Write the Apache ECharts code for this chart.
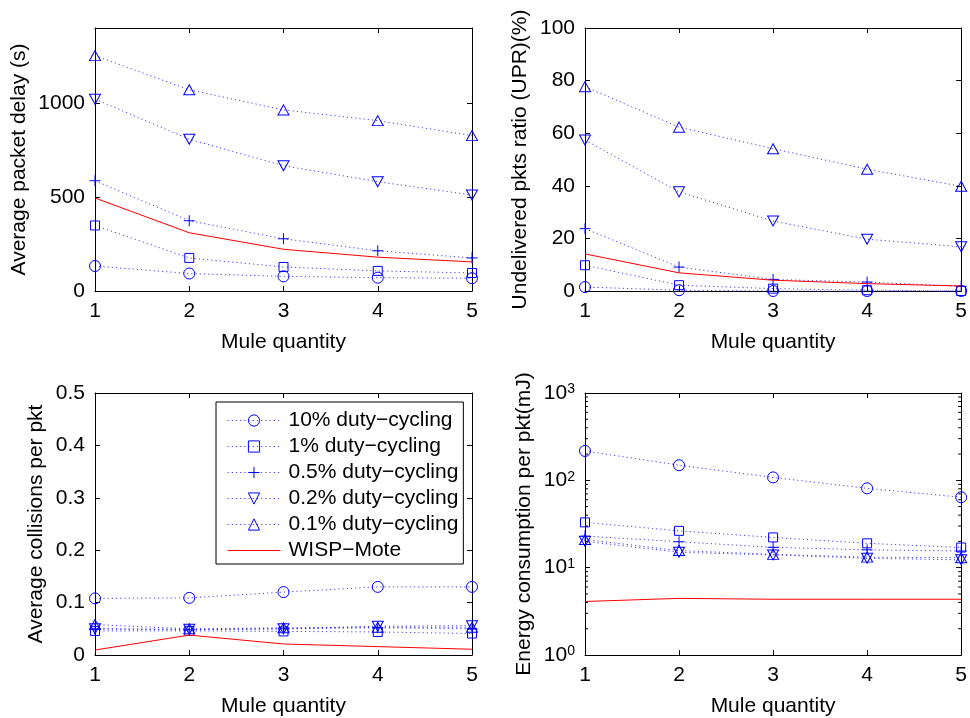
<!DOCTYPE html>
<html><head><meta charset="utf-8">
<script src="https://cdn.jsdelivr.net/npm/echarts@6/dist/echarts.min.js"></script>
<style>html,body{margin:0;padding:0;background:#fff}#c{width:970px;height:718px}</style>
</head><body><div id="c"></div>
<script>
const muleQty = [1, 2, 3, 4, 5];
const seriesNames = ['10% duty\u2212cycling', '1% duty\u2212cycling', '0.5% duty\u2212cycling', '0.2% duty\u2212cycling', '0.1% duty\u2212cycling', 'WISP\u2212Mote'];

// Average packet delay (s)
const delay10 = [133, 93, 78, 71, 68];
const delay1 = [349, 176, 128, 107, 96];
const delay05 = [587, 374, 278, 214, 176];
const delay02 = [1021, 808, 667, 582, 511];
const delay01 = [1253, 1071, 964, 907, 827];
const delayWisp = [495, 310, 222, 180, 155];

// Undelivered pkts ratio (%)
const upr10 = [1.5, 0.3, 0, 0, 0];
const upr1 = [9.8, 2.2, 0.9, 0.3, 0];
const upr05 = [23.7, 9.1, 4.4, 3.4, 1.8];
const upr02 = [57.4, 37.7, 26.6, 19.7, 16.8];
const upr01 = [77.7, 62.3, 54.1, 46.3, 39.8];
const uprWisp = [14.1, 6.9, 4.1, 2.8, 1.9];

// Average collisions per pkt
const coll10 = [0.108, 0.109, 0.120, 0.130, 0.130];
const coll1 = [0.046, 0.046, 0.045, 0.044, 0.041];
const coll05 = [0.050, 0.048, 0.050, 0.052, 0.050];
const coll02 = [0.050, 0.049, 0.050, 0.055, 0.056];
const coll01 = [0.058, 0.050, 0.052, 0.053, 0.053];
const collWisp = [0.0095, 0.038, 0.021, 0.016, 0.011];

// Energy consumption per pkt (mJ)
const energy10 = [217, 149, 108, 81, 64];
const energy1 = [33, 26.4, 22.2, 19, 17];
const energy05 = [23, 19.8, 17.1, 16, 15.5];
const energy02 = [20, 15, 14, 12.8, 12.3];
const energy01 = [21, 15.7, 14.2, 13.2, 13];
const energyWisp = [4.1, 4.45, 4.35, 4.35, 4.35];

// log axis minor tick values
const logMinorTicks = [2,3,4,5,6,7,8,9,20,30,40,50,60,70,80,90,200,300,400,500,600,700,800,900];

const FONT = "'Liberation Sans', Arial, Helvetica, sans-serif";
const BLUE = '#0000ff';
const markers = [
  {symbol: 'circle', size: 11, rotate: 0},
  {symbol: 'rect', size: 9, rotate: 0},
  {symbol: 'path://M0,5L10,5M5,0L5,10', size: 11, rotate: 0},
  {symbol: 'triangle', size: [11, 10], rotate: 180},
  {symbol: 'triangle', size: [11, 10], rotate: 0}
];

const grids = [
  {left: 95, top: 28, width: 377, height: 263},
  {left: 585, top: 28, width: 378, height: 263},
  {left: 95, top: 393, width: 377, height: 264},
  {left: 585, top: 393, width: 378, height: 264}
];

const panels = [
  {data: [delay10, delay1, delay05, delay02, delay01, delayWisp], yName: 'Average packet delay (s)', nameGap: 65,
   y: {type: 'value', min: 0, max: 1400, interval: 500}, labelFmt: v => (v % 500 === 0 ? String(v) : '')},
  {data: [upr10, upr1, upr05, upr02, upr01, uprWisp], yName: 'Undelivered pkts ratio (UPR)(%)', nameGap: 54,
   y: {type: 'value', min: 0, max: 100, interval: 20}, labelFmt: v => String(v)},
  {data: [coll10, coll1, coll05, coll02, coll01, collWisp], yName: 'Average collisions per pkt', nameGap: 48,
   y: {type: 'value', min: 0, max: 0.5, interval: 0.1}, labelFmt: v => (v === 0 ? '0' : String(+v.toFixed(1)))},
  {data: [energy10, energy1, energy05, energy02, energy01, energyWisp], yName: 'Energy consumption per pkt(mJ)', nameGap: 50,
   y: {type: 'log', min: 1, max: 1000, logBase: 10},
   labelFmt: v => '{b|10}{s|' + Math.round(Math.log10(v)) + '}'}
];

const xAxes = [], yAxes = [], series = [];
panels.forEach((p, g) => {
  xAxes.push({
    type: 'value', gridIndex: g, min: 1, max: 5, interval: 1, position: 'bottom',
    name: 'Mule quantity', nameLocation: 'middle', nameGap: 41,
    nameTextStyle: {fontFamily: FONT, fontSize: 21, color: '#000'},
    axisLine: {show: true, onZero: false, lineStyle: {color: '#000', width: 1}},
    axisTick: {show: true, inside: true, length: 5, lineStyle: {color: '#000'}},
    axisLabel: {show: true, margin: 10, fontFamily: FONT, fontSize: 21, color: '#000'},
    splitLine: {show: false}
  });
  xAxes.push({
    type: 'value', gridIndex: g, min: 1, max: 5, interval: 1, position: 'top',
    axisLine: {show: true, onZero: false, lineStyle: {color: '#000', width: 1}},
    axisTick: {show: true, inside: true, length: 5, lineStyle: {color: '#000'}},
    axisLabel: {show: false}, splitLine: {show: false}
  });
  const rich = {
    b: {fontFamily: FONT, fontSize: 21, color: '#000', lineHeight: 21, padding: [6, 0, 6, 0]},
    s: {fontFamily: FONT, fontSize: 14, color: '#000', lineHeight: 14, verticalAlign: 'top'}
  };
  yAxes.push(Object.assign({}, p.y, {
    gridIndex: g, position: 'left',
    name: p.yName, nameLocation: 'middle', nameGap: p.nameGap,
    nameTextStyle: {fontFamily: FONT, fontSize: 21, color: '#000'},
    axisLine: {show: true, onZero: false, lineStyle: {color: '#000', width: 1}},
    axisTick: {show: true, inside: true, length: 5, lineStyle: {color: '#000'}},
    axisLabel: {show: true, margin: 10, fontFamily: FONT, fontSize: 21, color: '#000', formatter: p.labelFmt, rich: g === 3 ? rich : undefined},
    splitLine: {show: false}
  }));
  yAxes.push(Object.assign({}, p.y, {
    gridIndex: g, position: 'right',
    axisLine: {show: true, onZero: false, lineStyle: {color: '#000', width: 1}},
    axisTick: {show: true, inside: true, length: 5, lineStyle: {color: '#000'}},
    axisLabel: {show: false}, splitLine: {show: false}
  }));

  p.data.forEach((vals, i) => {
    const isWisp = i === 5;
    const s = {
      type: 'line', name: seriesNames[i], xAxisIndex: 2 * g, yAxisIndex: 2 * g,
      data: muleQty.map((x, k) => [x, vals[k]]),
      animation: false, clip: false,
      z: isWisp ? 3 : 2
    };
    if (isWisp) {
      s.symbol = 'none';
      s.lineStyle = {color: '#ff0000', width: 1, type: 'solid'};
      s.itemStyle = {color: '#ff0000'};
    } else {
      const m = markers[i];
      s.symbol = m.symbol;
      s.symbolSize = m.size;
      s.symbolRotate = m.rotate;
      s.showAllSymbol = true;
      s.lineStyle = {color: BLUE, width: 1, type: [1.2, 3], opacity: 0.75};
      s.itemStyle = {color: 'rgba(0,0,0,0)', borderColor: BLUE, borderWidth: 1};
    }
    series.push(s);
  });
});

// minor ticks on the log axis (left and right)
series.push({
  type: 'custom', name: 'logMinor', xAxisIndex: 6, yAxisIndex: 6, silent: true, animation: false, clip: false,
  data: logMinorTicks.map(v => [1, v]),
  renderItem: function (params, api) {
    const a = api.coord([1, api.value(1)]);
    const b = api.coord([5, api.value(1)]);
    return {type: 'group', children: [
      {type: 'line', shape: {x1: a[0], y1: a[1], x2: a[0] + 3, y2: a[1]}, style: {stroke: '#000', lineWidth: 1}},
      {type: 'line', shape: {x1: b[0] - 3, y1: b[1], x2: b[0], y2: b[1]}, style: {stroke: '#000', lineWidth: 1}}
    ]};
  }
});

const legendData = seriesNames.map((n, i) => {
  if (i === 5) {
    return {name: n, icon: 'path://M0,0L53,0L53,1L0,1Z', itemStyle: {color: '#ff0000', borderWidth: 0}};
  }
  return {name: n, symbolRotate: markers[i].rotate,
    itemStyle: {color: 'rgba(0,0,0,0)', borderColor: BLUE, borderWidth: 1},
    lineStyle: {color: BLUE, width: 1, type: [1.2, 3], opacity: 0.75}};
});

const chart = echarts.init(document.getElementById('c'), null, {renderer: 'canvas'});
chart.setOption({
  backgroundColor: '#fff',
  animation: false,
  grid: grids,
  xAxis: xAxes,
  yAxis: yAxes,
  legend: {
    data: legendData, orient: 'vertical', left: 216, top: 402,
    backgroundColor: '#fff', borderColor: '#000', borderWidth: 1, borderRadius: 0,
    padding: [8, 5, 3, 11], itemWidth: 53, itemHeight: 14, itemGap: 5,
    textStyle: {fontFamily: FONT, fontSize: 21, color: '#000', lineHeight: 21, padding: [0, 0, 0, 3]},
    selectedMode: false
  },
  series: series
});
</script></body></html>
